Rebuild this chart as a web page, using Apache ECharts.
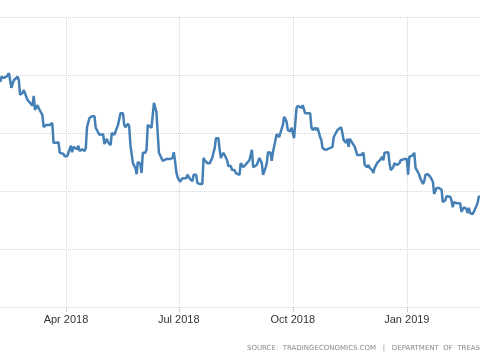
<!DOCTYPE html>
<html>
<head>
<meta charset="utf-8">
<script src="https://cdn.jsdelivr.net/npm/echarts@6/dist/echarts.min.js"></script>
<style>
html,body{margin:0;padding:0;background:#fff;}
#chart{width:480px;height:360px;}
</style>
</head>
<body>
<div id="chart"></div>
<script>
// Days since 2018-01-01
const dayOffsets = [37,38,40,42,44,46,48,51,52,53,55,56,59,60,63,64,65,67,68,71,72,74,77,79,80,82,84,85,88,89,91,92,94,95,96,99,100,101,103,105,106,107,109,111,113,114,115,117,118,120,121,123,124,126,127,129,130,132,134,136,137,138,140,141,142,144,146,147,148,150,151,152,154,155,156,157,159,160,161,163,164,165,167,168,171,172,174,176,177,178,179,180,182,184,185,187,188,190,192,193,195,196,198,200,201,202,204,205,206,208,209,210,211,213,214,215,216,217,218,220,221,223,224,225,226,227,228,230,231,233,234,236,238,240,241,242,244,245,246,248,249,251,252,253,255,256,257,259,260,262,263,265,266,267,268,269,271,272,273,274,276,277,278,280,281,282,283,284,287,288,289,291,292,293,295,296,297,299,301,302,305,306,307,308,309,310,312,313,314,315,316,317,318,319,320,321,322,323,324,325,326,328,330,331,333,334,335,337,338,339,340,341,342,344,345,346,347,348,350,351,352,354,355,356,357,359,360,361,363,365,366,367,370,371,372,373,375,376,378,379,380,382,384,385,386,387,388,389,391,393,394,396,397,398,400,401,402,403,405,406,408,409,410,411,413,414,415,416,417,418,419,420,422,423,424];
const values = [3.88,3.97,3.95,3.97,4.03,3.78,3.91,3.97,3.91,3.66,3.69,3.74,3.57,3.59,3.47,3.64,3.40,3.48,3.43,3.31,3.10,3.14,3.14,3.17,2.83,2.83,2.84,2.66,2.64,2.60,2.60,2.66,2.78,2.67,2.76,2.72,2.78,2.69,2.72,2.69,2.74,3.10,3.26,3.29,3.29,3.09,3.09,2.97,3.00,2.98,2.81,2.90,2.84,2.79,3.00,2.97,3.00,3.14,3.34,3.34,3.14,3.10,3.16,3.12,2.79,2.48,2.40,2.29,2.50,2.47,2.31,2.66,2.66,2.71,3.14,3.16,3.09,3.31,3.52,3.36,3.00,2.66,2.57,2.52,2.55,2.52,2.55,2.57,2.67,2.52,2.33,2.24,2.16,2.22,2.21,2.22,2.28,2.21,2.17,2.28,2.28,2.14,2.12,2.12,2.57,2.53,2.48,2.45,2.48,2.57,2.66,2.74,2.91,2.91,2.71,2.57,2.62,2.66,2.62,2.53,2.43,2.43,2.36,2.33,2.36,2.31,2.28,2.28,2.48,2.41,2.43,2.48,2.53,2.71,2.41,2.43,2.45,2.47,2.57,2.48,2.28,2.40,2.48,2.67,2.66,2.52,2.67,2.88,2.98,2.93,3.00,3.14,3.28,3.24,3.19,3.05,3.03,3.09,3.09,2.91,3.43,3.47,3.45,3.43,3.48,3.45,3.34,3.34,3.34,3.10,3.05,3.09,3.05,3.09,2.93,2.88,2.74,2.71,2.72,2.74,2.76,2.93,2.97,3.00,3.05,3.07,3.10,3.00,2.88,2.90,2.83,2.90,2.76,2.90,2.88,2.83,2.83,2.76,2.78,2.62,2.59,2.62,2.66,2.45,2.41,2.45,2.40,2.36,2.31,2.40,2.41,2.48,2.50,2.55,2.59,2.53,2.66,2.67,2.67,2.48,2.36,2.41,2.48,2.47,2.45,2.48,2.53,2.55,2.55,2.55,2.28,2.59,2.62,2.66,2.40,2.36,2.28,2.21,2.12,2.17,2.28,2.29,2.24,2.22,2.16,1.95,1.93,2.05,2.05,2.02,1.81,1.84,1.91,1.90,1.90,1.84,1.72,1.81,1.79,1.81,1.79,1.64,1.64,1.72,1.69,1.62,1.71,1.62,1.64,1.60,1.64,1.62,1.79,1.90,1.91];
const monthNames = ['Jan','Feb','Mar','Apr','May','Jun','Jul','Aug','Sep','Oct','Nov','Dec'];
const sourceText = 'SOURCE:  TRADINGECONOMICS.COM   |   DEPARTMENT  OF  TREASURY';

const DAY = 86400000;
const base = Date.UTC(2018, 0, 1);
const seriesData = dayOffsets.map((d, i) => [base + d * DAY, values[i]]);

const chart = echarts.init(document.getElementById('chart'), null, {renderer: 'canvas'});
chart.setOption({
  useUTC: true,
  animation: false,
  backgroundColor: '#ffffff',
  grid: {left: 0, right: 0, top: 17, bottom: 53, containLabel: false},
  xAxis: {
    type: 'time',
    min: base + 36.8 * DAY,
    max: base + 424 * DAY,
    splitNumber: 4,
    axisLine: {show: false},
    axisTick: {show: true, length: 5, lineStyle: {color: '#d0d0d0'}},
    minorTick: {show: false},
    splitLine: {show: true, showMinLine: false, showMaxLine: false, lineStyle: {color: '#d6d6d6', type: 'dotted', width: 1}},
    axisLabel: {
      show: true,
      margin: 7,
      color: '#333333',
      fontSize: 11,
      fontFamily: 'Liberation Sans',
      showMinLabel: false,
      showMaxLabel: false,
      formatter: function (val) {
        const d = new Date(val);
        return monthNames[d.getUTCMonth()] + ' ' + d.getUTCFullYear();
      }
    }
  },
  yAxis: {
    type: 'value',
    min: 0,
    max: 5,
    interval: 1,
    axisLine: {show: false},
    axisTick: {show: false},
    axisLabel: {show: false},
    splitLine: {show: true, lineStyle: {color: '#d6d6d6', type: 'dotted', width: 1}}
  },
  series: [{
    type: 'line',
    data: seriesData,
    showSymbol: false,
    symbol: 'none',
    lineStyle: {color: '#4480b5', width: 2.5},
    itemStyle: {color: '#4480b5'}
  }],
  graphic: [{
    type: 'text',
    left: 247,
    top: 345,
    style: {
      text: sourceText,
      fill: '#8a8a8a',
      font: '7px "DejaVu Sans"'
    }
  }]
});
</script>
</body>
</html>
